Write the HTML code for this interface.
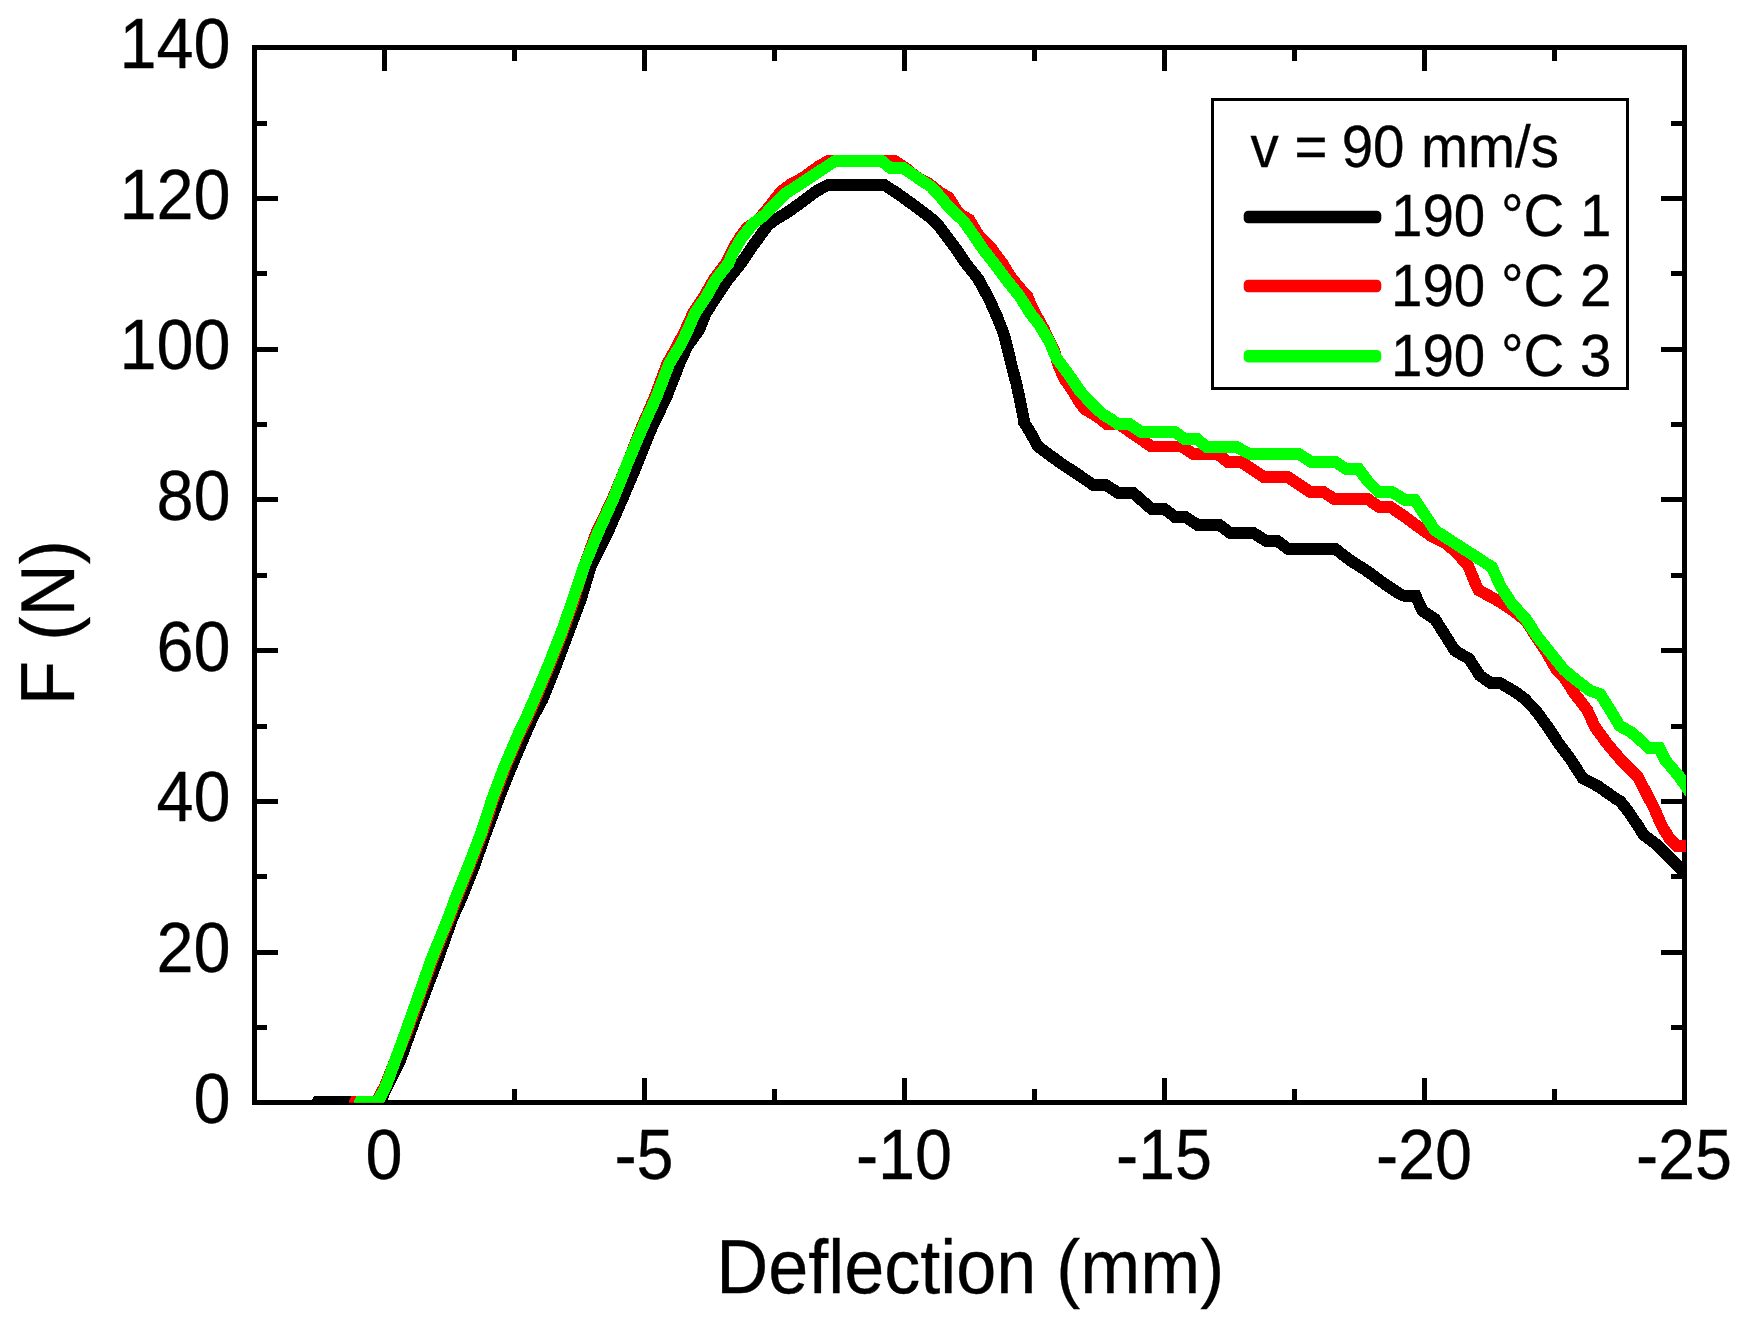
<!DOCTYPE html>
<html lang="en"><head><meta charset="utf-8"><title>F (N) vs Deflection (mm)</title>
<style>html,body{margin:0;padding:0;background:#fff}body{width:1748px;height:1318px;overflow:hidden}svg{display:block}text{font-family:"Liberation Sans",Arial,Helvetica,sans-serif;fill:#000;stroke:#000;stroke-width:0.3px}</style></head><body>
<svg width="1748" height="1318" viewBox="0 0 1748 1318" shape-rendering="crispEdges">
<rect width="1748" height="1318" fill="#fff"/>
<defs><clipPath id="c"><rect x="254.5" y="47.5" width="1431.5" height="1055.3"/></clipPath></defs>
<g stroke="#000" stroke-width="5" fill="none" stroke-linecap="square">
<rect x="254.5" y="47.5" width="1430.0" height="1055.0"/>
</g>
<g stroke="#000" stroke-width="5" stroke-linecap="butt">
<line x1="384.5" y1="1102.5" x2="384.5" y2="1078.0"/>
<line x1="384.5" y1="47.5" x2="384.5" y2="71.0"/>
<line x1="514.5" y1="1102.5" x2="514.5" y2="1089.2"/>
<line x1="514.5" y1="47.5" x2="514.5" y2="60.9"/>
<line x1="644.5" y1="1102.5" x2="644.5" y2="1078.0"/>
<line x1="644.5" y1="47.5" x2="644.5" y2="71.0"/>
<line x1="774.5" y1="1102.5" x2="774.5" y2="1089.2"/>
<line x1="774.5" y1="47.5" x2="774.5" y2="60.9"/>
<line x1="904.5" y1="1102.5" x2="904.5" y2="1078.0"/>
<line x1="904.5" y1="47.5" x2="904.5" y2="71.0"/>
<line x1="1034.5" y1="1102.5" x2="1034.5" y2="1089.2"/>
<line x1="1034.5" y1="47.5" x2="1034.5" y2="60.9"/>
<line x1="1164.5" y1="1102.5" x2="1164.5" y2="1078.0"/>
<line x1="1164.5" y1="47.5" x2="1164.5" y2="71.0"/>
<line x1="1294.5" y1="1102.5" x2="1294.5" y2="1089.2"/>
<line x1="1294.5" y1="47.5" x2="1294.5" y2="60.9"/>
<line x1="1424.5" y1="1102.5" x2="1424.5" y2="1078.0"/>
<line x1="1424.5" y1="47.5" x2="1424.5" y2="71.0"/>
<line x1="1554.5" y1="1102.5" x2="1554.5" y2="1089.2"/>
<line x1="1554.5" y1="47.5" x2="1554.5" y2="60.9"/>
<line x1="254.5" y1="1027.4" x2="267.1" y2="1027.4"/>
<line x1="1684.5" y1="1027.4" x2="1671.2" y2="1027.4"/>
<line x1="254.5" y1="952.1" x2="278.1" y2="952.1"/>
<line x1="1684.5" y1="952.1" x2="1661.3" y2="952.1"/>
<line x1="254.5" y1="876.7" x2="267.1" y2="876.7"/>
<line x1="1684.5" y1="876.7" x2="1671.2" y2="876.7"/>
<line x1="254.5" y1="801.4" x2="278.1" y2="801.4"/>
<line x1="1684.5" y1="801.4" x2="1661.3" y2="801.4"/>
<line x1="254.5" y1="726.0" x2="267.1" y2="726.0"/>
<line x1="1684.5" y1="726.0" x2="1671.2" y2="726.0"/>
<line x1="254.5" y1="650.7" x2="278.1" y2="650.7"/>
<line x1="1684.5" y1="650.7" x2="1661.3" y2="650.7"/>
<line x1="254.5" y1="575.3" x2="267.1" y2="575.3"/>
<line x1="1684.5" y1="575.3" x2="1671.2" y2="575.3"/>
<line x1="254.5" y1="499.9" x2="278.1" y2="499.9"/>
<line x1="1684.5" y1="499.9" x2="1661.3" y2="499.9"/>
<line x1="254.5" y1="424.6" x2="267.1" y2="424.6"/>
<line x1="1684.5" y1="424.6" x2="1671.2" y2="424.6"/>
<line x1="254.5" y1="349.2" x2="278.1" y2="349.2"/>
<line x1="1684.5" y1="349.2" x2="1661.3" y2="349.2"/>
<line x1="254.5" y1="273.9" x2="267.1" y2="273.9"/>
<line x1="1684.5" y1="273.9" x2="1671.2" y2="273.9"/>
<line x1="254.5" y1="198.5" x2="278.1" y2="198.5"/>
<line x1="1684.5" y1="198.5" x2="1661.3" y2="198.5"/>
<line x1="254.5" y1="123.2" x2="267.1" y2="123.2"/>
<line x1="1684.5" y1="123.2" x2="1671.2" y2="123.2"/>
</g>
<g clip-path="url(#c)" fill="none" stroke-width="11.8" stroke-linejoin="miter" stroke-miterlimit="3" stroke-linecap="butt" shape-rendering="crispEdges">
<polyline stroke="#000000" points="312.7,1114.3 317.7,1102.3 380.0,1102.3 387.9,1084.7 400.4,1059.8 413.8,1022.4 437.5,960.0 452.4,918.1 460.7,899.8 474.0,866.5 485.7,833.2 498.2,799.9 511.5,766.6 525.6,733.3 532.4,718.1 542.3,699.8 555.7,666.5 568.2,633.2 580.7,599.9 590.7,566.6 607.3,533.3 622.3,499.1 637.5,463.1 650.8,429.8 666.6,396.5 679.6,363.2 687.1,346.6 699.1,329.9 705.7,313.3 716.5,296.6 727.7,280.0 741.1,263.2 752.4,246.5 767.9,225.2 773.2,221.1 789.9,210.7 806.5,198.6 816.5,191.1 828.0,184.9 884.1,184.9 896.6,192.8 913.3,204.9 929.9,217.4 937.4,224.1 954.4,246.5 965.7,263.2 977.9,278.5 988.6,298.0 997.0,316.6 1003.6,333.3 1007.9,349.9 1011.9,366.6 1016.3,383.2 1019.9,399.9 1023.3,416.5 1024.1,422.4 1030.8,433.2 1037.7,446.2 1059.9,462.6 1076.5,473.5 1093.2,484.9 1105.7,484.9 1118.1,492.8 1133.1,492.8 1151.4,508.9 1164.5,508.9 1175.0,517.0 1185.5,517.0 1197.4,524.8 1219.1,524.8 1229.9,532.8 1253.2,532.8 1265.7,540.8 1277.4,540.8 1288.2,549.1 1335.6,549.1 1349.8,560.1 1366.4,570.6 1383.1,582.8 1399.7,593.9 1404.7,596.0 1415.8,596.0 1422.4,610.7 1434.9,619.0 1454.9,650.6 1469.1,658.9 1479.9,675.6 1490.8,683.1 1500.3,683.1 1515.3,692.0 1524.4,698.6 1535.2,709.9 1547.7,726.6 1558.5,743.2 1571.0,759.9 1582.7,778.2 1598.5,786.5 1615.1,798.2 1620.1,801.2 1627.1,809.8 1638.5,826.5 1643.4,834.8 1656.8,844.8 1672.1,859.8 1692.0,881.0"/>
<polyline stroke="#ff0000" points="350.1,1114.3 355.1,1102.3 376.0,1102.3 384.5,1087.0 407.6,1030.0 432.4,960.0 449.4,918.1 456.1,899.8 469.4,866.5 482.3,833.2 493.1,799.9 505.6,766.6 519.8,733.3 527.2,718.1 535.2,699.8 549.1,666.5 562.3,633.2 574.0,599.9 584.0,566.6 596.2,533.3 612.5,499.1 627.5,463.1 640.6,429.8 655.0,396.5 667.5,363.2 677.0,346.6 685.5,329.9 693.0,313.3 704.0,296.6 713.5,280.0 726.0,263.2 730.1,255.0 735.1,245.1 740.9,235.9 746.7,228.1 757.8,220.1 764.2,212.9 770.9,204.6 775.9,197.9 781.5,191.4 791.4,183.9 803.1,177.7 819.6,165.7 828.3,161.1 894.9,161.1 904.6,167.3 916.5,177.0 928.2,183.2 939.7,192.3 948.7,197.5 958.6,213.3 969.2,219.6 978.3,234.8 990.8,247.6 1002.4,263.4 1011.6,278.3 1021.5,289.9 1027.3,296.1 1032.3,308.2 1043.0,327.6 1053.5,349.1 1055.0,353.5 1058.3,365.1 1064.1,378.4 1071.6,389.2 1078.2,400.0 1084.0,408.5 1097.9,417.1 1106.5,423.7 1118.2,423.7 1151.4,446.5 1182.0,446.5 1193.3,454.0 1217.5,454.0 1227.4,461.6 1240.7,461.6 1263.2,476.7 1287.3,476.7 1309.8,491.8 1323.1,491.8 1334.8,499.3 1368.1,499.3 1378.9,506.9 1390.3,506.9 1403.4,515.8 1413.4,523.2 1430.8,535.7 1437.7,539.5 1447.7,544.5 1459.0,555.4 1468.0,565.4 1476.8,586.7 1478.6,590.2 1496.5,599.8 1513.2,610.7 1525.8,620.6 1547.0,653.1 1556.5,669.8 1563.5,676.6 1574.4,693.3 1587.2,709.9 1594.8,726.6 1606.8,743.2 1621.0,759.9 1626.8,765.7 1637.6,776.5 1646.4,793.2 1654.8,809.8 1662.1,826.5 1669.3,838.1 1676.7,845.6 1692.0,845.6"/>
<polyline stroke="#00ff00" points="355.1,1114.3 360.1,1102.3 377.5,1102.3 385.5,1087.0 406.4,1030.0 431.2,960.0 448.2,918.1 454.9,899.8 468.2,866.5 481.1,833.2 491.9,799.9 504.4,766.6 518.6,733.3 526.0,718.1 534.0,699.8 547.9,666.5 561.1,633.2 572.8,599.9 584.0,566.6 597.7,533.3 613.3,499.1 627.5,463.1 641.6,429.8 656.6,396.5 669.4,363.2 679.6,346.6 687.9,329.9 694.9,313.3 706.3,296.6 715.5,280.0 728.6,263.2 732.5,253.7 741.6,237.9 753.2,223.6 764.8,214.7 776.4,202.3 786.4,192.9 799.7,184.4 816.2,173.4 835.0,161.1 882.1,161.3 890.4,168.0 903.2,168.0 908.2,171.2 919.8,179.4 931.4,186.9 941.4,198.1 948.9,207.2 963.0,220.5 971.2,231.7 983.7,250.1 994.0,263.2 1006.5,279.8 1019.8,296.5 1030.2,313.1 1039.5,325.0 1049.4,341.6 1056.5,358.2 1068.9,374.8 1080.2,391.4 1094.7,406.9 1103.0,414.3 1111.2,419.3 1117.5,423.8 1129.1,423.8 1140.7,431.8 1175.0,432.0 1184.4,439.0 1197.0,439.0 1206.5,447.0 1236.5,447.0 1249.9,454.0 1299.0,454.0 1310.6,461.6 1334.8,461.6 1346.4,469.2 1358.9,469.2 1368.5,482.0 1378.1,491.6 1391.5,491.6 1405.0,500.0 1415.0,500.0 1434.9,530.3 1491.9,567.1 1500.7,586.5 1511.5,603.2 1526.5,619.8 1537.3,636.5 1550.6,653.1 1564.0,669.8 1571.9,676.6 1590.2,690.8 1600.2,694.1 1610.2,709.9 1619.6,725.8 1631.8,732.7 1640.1,739.9 1648.4,747.7 1659.3,747.7 1665.1,759.9 1679.2,776.5 1692.0,795.5"/>
</g>
<g font-size="66.6px">
<text transform="translate(230.5,1122.8) scale(1,1.05)" text-anchor="end">0</text>
<text transform="translate(230.5,972.1) scale(1,1.05)" text-anchor="end">20</text>
<text transform="translate(230.5,821.4) scale(1,1.05)" text-anchor="end">40</text>
<text transform="translate(230.5,670.7) scale(1,1.05)" text-anchor="end">60</text>
<text transform="translate(230.5,519.9) scale(1,1.05)" text-anchor="end">80</text>
<text transform="translate(230.5,369.2) scale(1,1.05)" text-anchor="end">100</text>
<text transform="translate(230.5,218.5) scale(1,1.05)" text-anchor="end">120</text>
<text transform="translate(230.5,67.8) scale(1,1.05)" text-anchor="end">140</text>
<text transform="translate(384.0,1178.6) scale(1,1.05)" text-anchor="middle">0</text>
<text transform="translate(644.0,1178.6) scale(1,1.05)" text-anchor="middle">-5</text>
<text transform="translate(904.0,1178.6) scale(1,1.05)" text-anchor="middle">-10</text>
<text transform="translate(1164.0,1178.6) scale(1,1.05)" text-anchor="middle">-15</text>
<text transform="translate(1424.0,1178.6) scale(1,1.05)" text-anchor="middle">-20</text>
<text transform="translate(1684.0,1178.6) scale(1,1.05)" text-anchor="middle">-25</text>
</g>
<text transform="translate(970.2,1293.0) scale(1,1.05)" font-size="72px" text-anchor="middle">Deflection (mm)</text>
<text transform="translate(74.05,622.6) rotate(-90) scale(1,1.05)" font-size="72.5px" text-anchor="middle">F (N)</text>
<rect x="1212.5" y="99.5" width="415.0" height="289.0" fill="#fff" stroke="#000" stroke-width="3"/>
<g font-size="56.5px">
<text transform="translate(0,167.0) scale(1,1.05)"><tspan x="1250.6">v = </tspan><tspan x="1341.7">90 </tspan><tspan x="1421.0">mm/s</tspan></text>
<rect x="1243.7" y="210.8" width="137.5999999999999" height="12.4" rx="4.5" fill="#000000" shape-rendering="geometricPrecision"/>
<text transform="translate(1391,236.2) scale(1,1.05)">190 °C 1</text>
<rect x="1243.7" y="279.8" width="137.5999999999999" height="12.4" rx="4.5" fill="#ff0000" shape-rendering="geometricPrecision"/>
<text transform="translate(1391,306.1) scale(1,1.05)">190 °C 2</text>
<rect x="1243.7" y="350.0" width="137.5999999999999" height="12.4" rx="4.5" fill="#00ff00" shape-rendering="geometricPrecision"/>
<text transform="translate(1391,376.0) scale(1,1.05)">190 °C 3</text>
</g>
</svg></body></html>
